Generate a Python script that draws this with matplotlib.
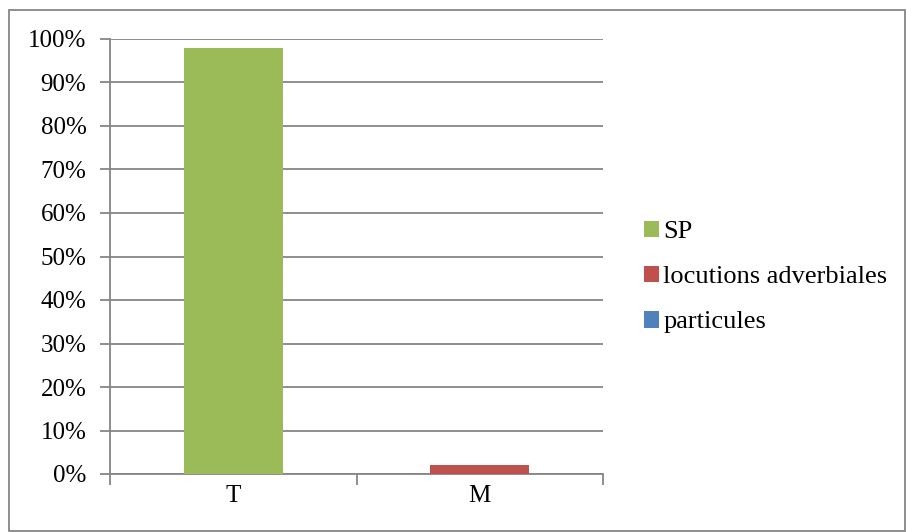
import matplotlib.pyplot as plt
import numpy as np
from matplotlib.patches import Rectangle
from matplotlib.ticker import PercentFormatter, FixedLocator, NullFormatter

plt.rcParams['font.family'] = ['Liberation Serif', 'DejaVu Serif']

categories = ['T', 'M']
series = ['SP', 'locutions adverbiales', 'particules']
sp = [97.9, 0.0]
locutions = [0.0, 2.1]
particules = [0.0, 0.0]
colors = ['#9BBB59', '#C0504D', '#4F81BD']

fig = plt.figure(figsize=(9.06, 5.32), dpi=100)
ax = fig.add_axes([110 / 906, 1 - 474 / 532, 493 / 906, 435 / 532])

x = np.arange(len(categories))
bottom = np.zeros(len(categories))
for name, vals, c in zip(series, [sp, locutions, particules], colors):
    ax.bar(x, vals, 0.4, bottom=bottom, color=c, label=name, zorder=3)
    bottom += np.array(vals)

grid_c = '#868686'
ax.set_xlim(-0.5, 1.5)
ax.set_ylim(0, 100)
ax.set_yticks(np.arange(0, 101, 10))
ax.yaxis.set_major_formatter(PercentFormatter(decimals=0))
ax.yaxis.grid(True, color=grid_c, linewidth=1.3, zorder=0)
ax.set_xticks(x)
ax.set_xticklabels(categories)
ax.xaxis.set_minor_locator(FixedLocator([-0.5, 0.5, 1.5]))
ax.xaxis.set_minor_formatter(NullFormatter())
ax.tick_params(axis='x', which='major', length=0, labelsize=18, pad=8)
ax.tick_params(axis='x', which='minor', length=8, width=1.3, color=grid_c)
ax.tick_params(axis='y', length=7, width=1.3, color=grid_c, labelsize=18, pad=10)
for s in ['top', 'right']:
    ax.spines[s].set_visible(False)
for s in ['left', 'bottom']:
    ax.spines[s].set_color(grid_c)
    ax.spines[s].set_linewidth(1.3)

ax.legend(loc='center left', bbox_to_anchor=(633 / 906, 1 - 277 / 532), bbox_transform=fig.transFigure,
          frameon=False, fontsize=19, handlelength=0.6, handleheight=0.6, handletextpad=0.15,
          labelspacing=0.85, borderaxespad=0)

fig.patches.append(Rectangle((9 / 906, 1 / 532), 896 / 906, 521 / 532, transform=fig.transFigure,
                             fill=False, edgecolor='#868686', linewidth=1.3))

fig.savefig('out.png', dpi=100)
